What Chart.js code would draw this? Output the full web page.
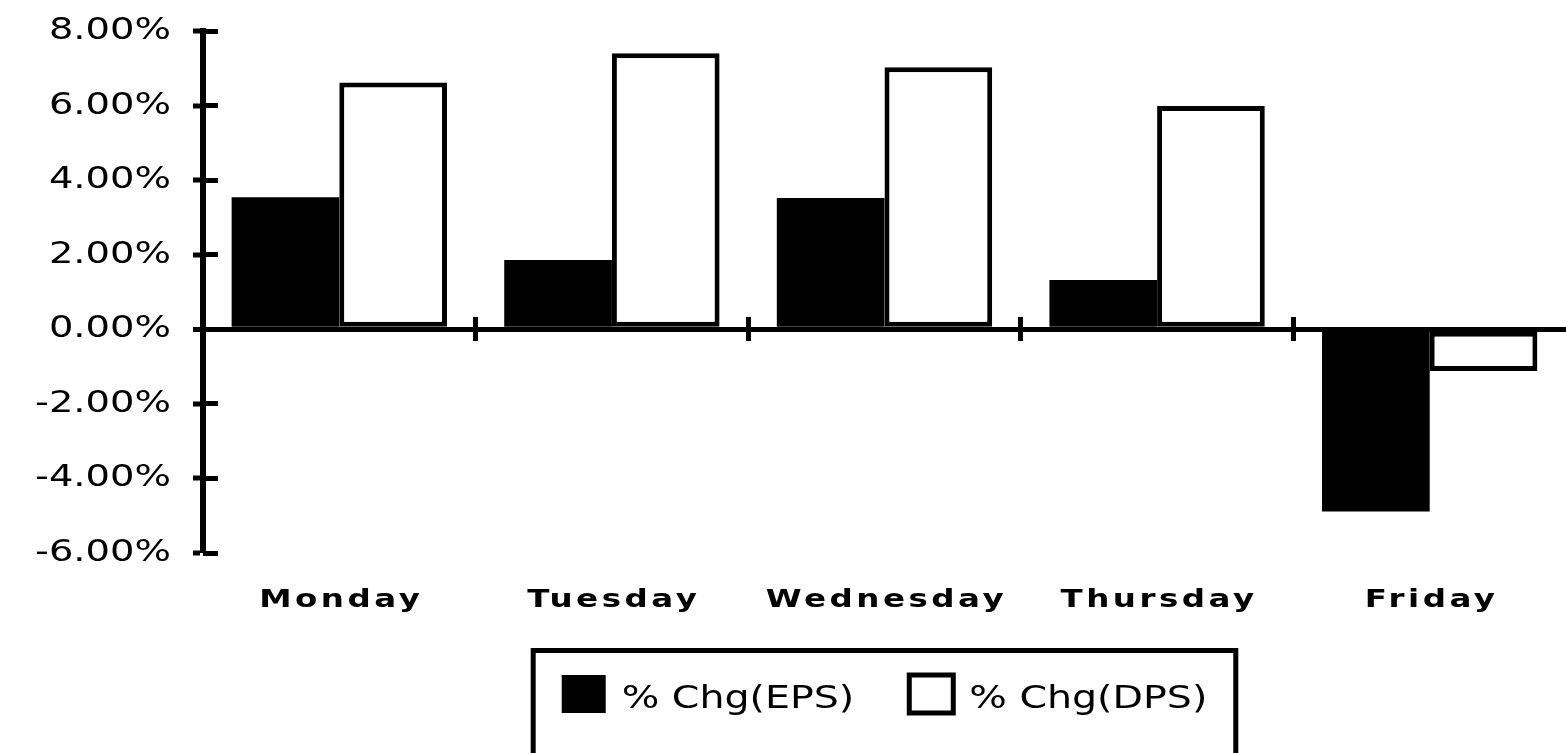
<!DOCTYPE html>
<html>
<head>
<meta charset="utf-8">
<title>% Chg(EPS) / % Chg(DPS)</title>
<script src="https://cdn.jsdelivr.net/npm/chart.js@4/dist/chart.umd.min.js"></script>
<style>
  html, body { margin: 0; padding: 0; background: #fff; }
  canvas { display: block; }
</style>
</head>
<body>
<canvas id="myChart" width="1566" height="753"></canvas>
<script>
// data
const days = ['Monday', 'Tuesday', 'Wednesday', 'Thursday', 'Friday'];
const epsChange = [3.54, 1.86, 3.52, 1.32, -4.89];
const dpsChange = [6.62, 7.40, 7.03, 5.99, -1.12];
const seriesNames = ['% Chg(EPS)', '% Chg(DPS)'];
const yTicks = [-6, -4, -2, 0, 2, 4, 6, 8];

// the original text is wide: horizontal stretch (sx), tracking (ls, px), nudge down (dy)
const textLook = {
  y: { sx: 1.24, ls: 0, dy: 0 },
  x: { sx: 1.3, ls: 2.7, dy: 0 },
  legend: { sx: 1.235, ls: 0, dy: 6 }
};

Chart.defaults.font.family = "'DejaVu Sans', Verdana, sans-serif";
Chart.defaults.color = '#000';

function wideText(fn, look) {
  return function () {
    const ctx = this.ctx;
    const fill = ctx.fillText;
    const measure = ctx.measureText;
    const prev = ctx.letterSpacing;
    ctx.letterSpacing = look.ls + 'px';
    ctx.fillText = function (text, x, y) {
      this.save();
      this.translate(x, y + look.dy);
      this.scale(look.sx, 1);
      fill.call(this, text, 0, 0);
      this.restore();
    };
    ctx.measureText = function (text) {
      const m = measure.call(this, text);
      return {
        width: m.width * look.sx,
        actualBoundingBoxAscent: m.actualBoundingBoxAscent,
        actualBoundingBoxDescent: m.actualBoundingBoxDescent
      };
    };
    try {
      return fn.apply(this, arguments);
    } finally {
      delete ctx.fillText;
      delete ctx.measureText;
      ctx.letterSpacing = prev;
    }
  };
}

const wideFont = {
  id: 'wideFont',
  beforeUpdate(chart) {
    const lg = chart.legend;
    if (lg && !lg._wide) {
      lg.fit = wideText(lg.fit, textLook.legend);
      lg.draw = wideText(lg.draw, textLook.legend);
      lg._wide = true;
    }
  },
  beforeDraw(chart) {
    ['x', 'y'].forEach((id) => {
      const s = chart.scales[id];
      if (s && !s._wide) {
        s.drawLabels = wideText(s.drawLabels, textLook[id]);
        s._wide = true;
      }
    });
  }
};

// box round the legend, open at the bottom edge of the picture
const legendFrame = {
  id: 'legendFrame',
  afterDraw(chart) {
    const boxes = chart.legend && chart.legend.legendHitBoxes;
    if (!boxes || !boxes.length) return;
    const first = boxes[0];
    const last = boxes[boxes.length - 1];
    const left = first.left - 31;
    const right = last.left + last.width + 31;
    const top = first.top - 27;
    const ctx = chart.ctx;
    ctx.save();
    ctx.strokeStyle = '#000';
    ctx.lineWidth = 5;
    ctx.strokeRect(left + 2.5, top + 2.5, right - left - 5, chart.height - top + 20);
    ctx.restore();
  }
};

const catTick = (c) => (c.type === 'tick' && c.index > 0) ? '#000' : 'rgba(0,0,0,0)';
const zeroOnly = (c) => (c.tick && c.tick.value === 0) ? '#000' : 'rgba(0,0,0,0)';

const ctx = document.getElementById('myChart');

new Chart(ctx, {
  type: 'bar',
  data: {
    labels: days,
    datasets: [{
      label: seriesNames[0],
      data: epsChange,
      backgroundColor: '#000',
      borderColor: '#000',
      borderWidth: 0
    }, {
      label: seriesNames[1],
      data: dpsChange,
      backgroundColor: '#fff',
      borderColor: '#000',
      borderWidth: 5,
      borderSkipped: false
    }]
  },
  options: {
    responsive: false,
    devicePixelRatio: 1,
    animation: false,
    categoryPercentage: 0.79,
    barPercentage: 1,
    layout: { padding: { top: 31, right: 0, bottom: 30, left: 0 } },
    scales: {
      x: {
        type: 'category',
        offset: true,
        grid: { display: false, drawTicks: false },
        border: { display: false },
        ticks: {
          font: { size: 25, weight: 'bold' },
          padding: 32,
          labelOffset: 2,
          maxRotation: 0,
          autoSkip: false
        },
        afterFit: (s) => { s.height = 67; }
      },
      // category tick marks crossing the zero line
      xd: {
        axis: 'x',
        type: 'category',
        position: { y: 0 },
        offset: true,
        grid: { offset: true, drawOnChartArea: false, tickLength: 12, tickWidth: 5, tickColor: catTick },
        border: { display: false },
        ticks: { display: false }
      },
      xu: {
        axis: 'x',
        type: 'category',
        position: { y: 0 },
        offset: true,
        grid: { offset: true, drawOnChartArea: false, tickLength: -12, tickWidth: 5, tickColor: catTick },
        border: { display: false },
        ticks: { display: false }
      },
      y: {
        position: 'left',
        min: yTicks[0],
        max: yTicks[yTicks.length - 1],
        grid: {
          color: zeroOnly,
          lineWidth: (c) => (c.tick && c.tick.value === 0) ? 5 : 0,
          tickLength: 10,
          tickWidth: 5,
          tickColor: '#000'
        },
        border: { display: true, color: '#000', width: 6 },
        ticks: {
          stepSize: 2,
          padding: 22,
          font: { size: 31 },
          callback: (v) => v.toFixed(2) + '%'
        },
        afterFit: (s) => {
          s.width = 203;
          s.paddingTop = 0;
          s.paddingBottom = 0;
        }
      },
      // right half of the value tick marks
      y2: {
        axis: 'y',
        position: { x: -0.5 },
        min: yTicks[0],
        max: yTicks[yTicks.length - 1],
        grid: { drawOnChartArea: false, tickLength: -15, tickWidth: 5, tickColor: '#000' },
        border: { display: false },
        ticks: { display: false, stepSize: 2 }
      }
    },
    plugins: {
      tooltip: { enabled: false },
      legend: {
        position: 'bottom',
        fullSize: false,
        labels: {
          font: { size: 32 },
          color: '#000',
          boxWidth: 44,
          boxHeight: 38,
          padding: 55
        }
      }
    }
  },
  plugins: [wideFont, legendFrame]
});
</script>
</body>
</html>
